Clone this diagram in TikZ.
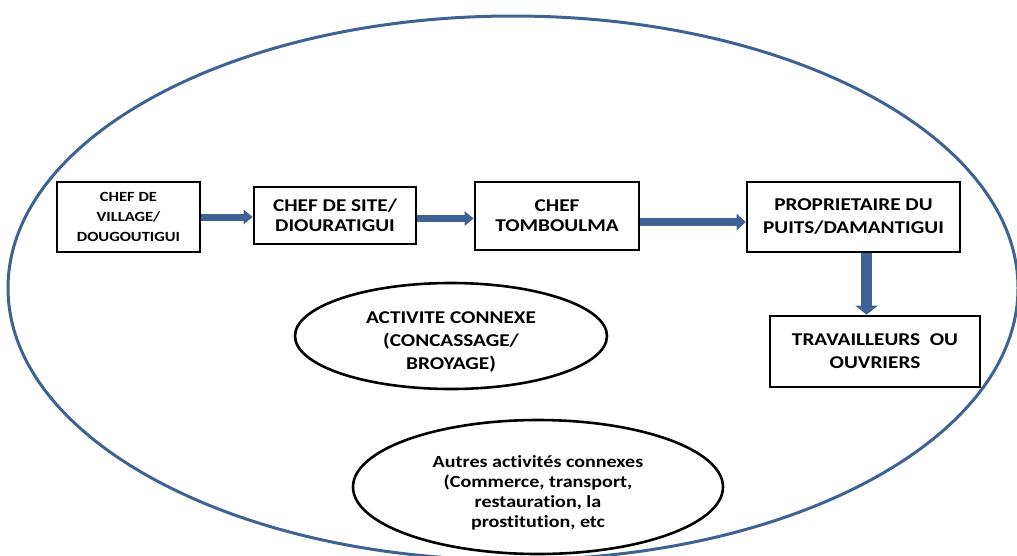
\documentclass[tikz,border=0pt]{standalone}
\usepackage{fontspec}
\setmainfont{Carlito}[FakeStretch=1.18,Ligatures=NoCommon]
\usetikzlibrary{arrows.meta,shapes.geometric}
\definecolor{flowblue}{RGB}{62,98,148}

\begin{document}
\begin{tikzpicture}[x=1pt,y=-1pt,
    box/.style={draw,line width=2.6pt,inner sep=0pt,align=center,font=\bfseries\fontsize{18}{23}\selectfont},
    oval/.style={draw,ellipse,line width=2.6pt,inner sep=0pt,align=center,font=\bfseries\fontsize{18}{23}\selectfont},
    flow/.style={flowblue,line width=#1,-{Triangle[length=9pt,width=0pt 2]}},
    flow/.default=7pt]
  \useasboundingbox (0,0) rectangle (1017,555);
  \clip (0,0) rectangle (1017,555);
  \draw[flowblue,line width=3pt] (513,288) ellipse [x radius=505,y radius=272];

  \node[box,minimum width=143pt,minimum height=70pt,font=\bfseries\fontsize{14}{20}\selectfont] (village) at (128.5,217) {CHEF DE\\VILLAGE/\\DOUGOUTIGUI};
  \node[box,minimum width=162pt,minimum height=57pt,font=\bfseries\fontsize{18}{20}\selectfont] (site) at (335,215.5) {CHEF DE SITE/\\DIOURATIGUI};
  \node[box,minimum width=164pt,minimum height=68pt,font=\bfseries\fontsize{18}{20}\selectfont] (tomboulma) at (557,216) {CHEF\\TOMBOULMA};
  \node[box,minimum width=213pt,minimum height=70pt] (puits) at (853.5,217) {PROPRIETAIRE DU\\PUITS/DAMANTIGUI};
  \node[box,minimum width=210pt,minimum height=71pt] (ouvriers) at (875,351.5) {TRAVAILLEURS~ OU\\OUVRIERS};

  \node[oval,minimum width=312pt,minimum height=106pt] (broyage) at (451,336) {\rule{0pt}{24pt}ACTIVITE CONNEXE\\(CONCASSAGE/\\BROYAGE)};
  \node[oval,minimum width=370pt,minimum height=134pt,font=\bfseries\fontsize{17}{20}\selectfont] (autres) at (538,487) {\rule{0pt}{23pt}Autres activités connexes\\(Commerce, transport,\\restauration, la\\prostitution, etc};

  \draw[flow] (village.east) -- (village.east -| site.west);
  \draw[flow] ([yshift=-3pt]site.east) -- ([yshift=-3pt]site.east -| tomboulma.west);
  \draw[flow=8pt] ([yshift=-6pt]tomboulma.east) -- ([yshift=-6pt]tomboulma.east -| puits.west);
  \coordinate (drop) at ([xshift=13pt]puits.south);
  \draw[flow=11pt] (drop) -- (drop |- ouvriers.north);
\end{tikzpicture}
\end{document}
